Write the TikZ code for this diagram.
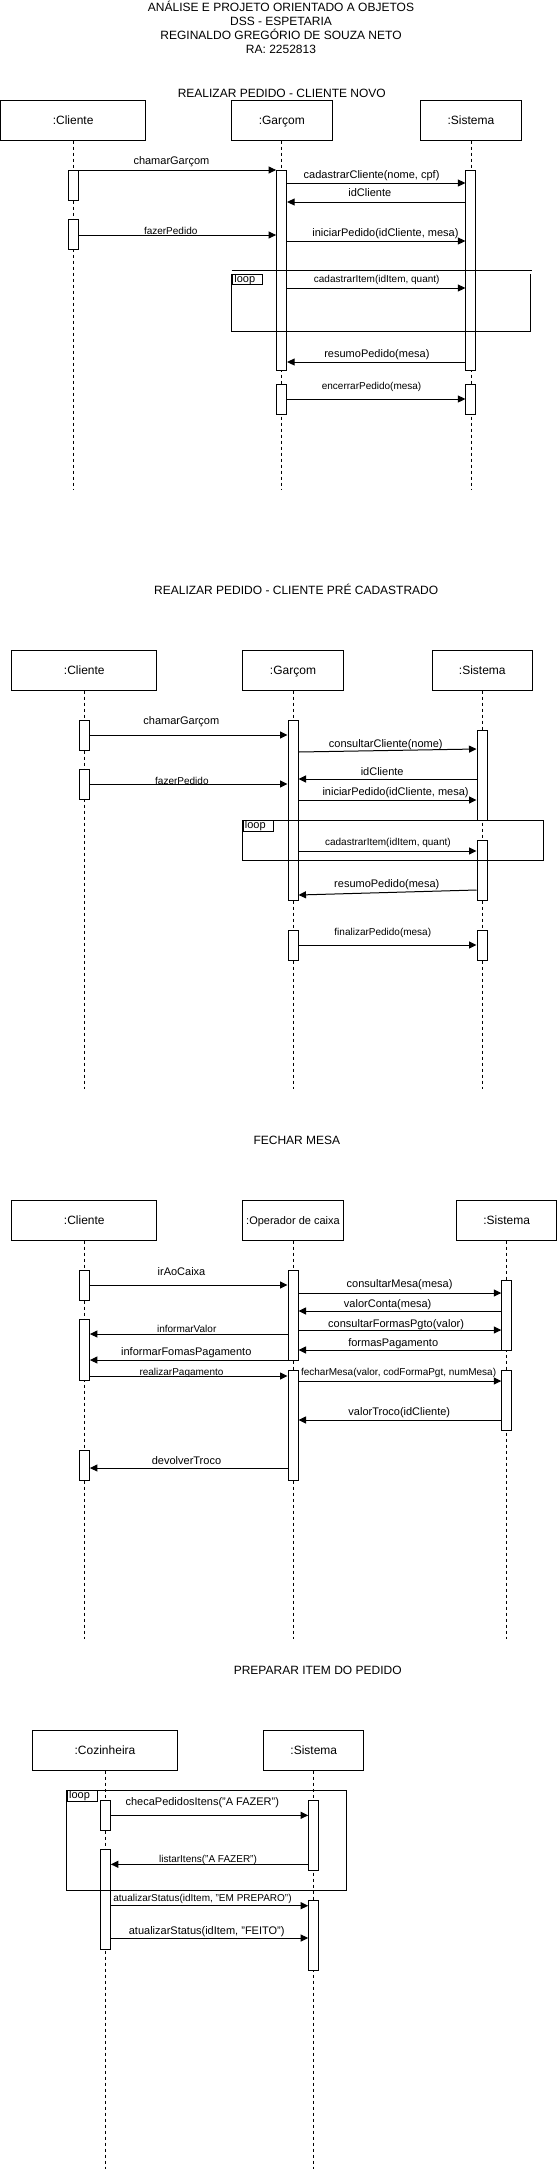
\documentclass[tikz,border=0pt]{standalone}
\usepackage{fontspec}
\setmainfont{Liberation Sans}
\usetikzlibrary{arrows.meta}
\tikzset{
  obj/.style={draw, line width=1pt, inner sep=0pt, minimum height=40pt, text height=10pt, text depth=1.4pt, font=\fontsize{12}{14}\selectfont},
  objm/.style={obj, text height=9.5pt, text depth=1.5pt, font=\fontsize{11}{13}\selectfont},
  act/.style={draw, fill=white, line width=1pt, inner sep=0pt, minimum width=10pt},
  life/.style={line width=0.8pt, dash pattern=on 3pt off 3pt},
  msg/.style={line width=1pt, -{Triangle[length=7.5pt,width=7pt]}},
  lm/.style={anchor=base, inner sep=0pt, font=\fontsize{11}{13}\selectfont},
  ls/.style={anchor=base, inner sep=0pt, font=\fontsize{10}{12}\selectfont},
  lb/.style={anchor=base, inner sep=0pt, font=\fontsize{12}{14}\selectfont},
  frm/.style={line width=1pt},
  tab/.style={draw, line width=0.8pt, anchor=north west, inner xsep=2pt, inner ysep=0pt,
    text width=26pt, align=left, minimum height=10pt, font=\fontsize{11}{11}\selectfont}
}
\begin{document}
\begin{tikzpicture}[x=1pt,y=-1pt]
\useasboundingbox (0,0) rectangle (557,2171);

% ---------------- titles ----------------
\node[lb] (t1) at (281,11.3) {ANÁLISE E PROJETO ORIENTADO A OBJETOS};
\node[lb] (t2) at (281,25.6) {DSS - ESPETARIA};
\node[lb] (t3) at (281,39.6) {REGINALDO GREGÓRIO DE SOUZA NETO};
\node[lb] (t4) at (281,53.9) {RA: 2252813};

% ================= Diagram 1 =================
\node[lb] (d1) at (281.8,97.3) {REALIZAR PEDIDO - CLIENTE NOVO};
\node[obj, minimum width=145.3pt] (c1) at (73.1,120) {:Cliente};
\node[obj, minimum width=100.5pt] (g1) at (281.8,120) {:Garçom};
\node[obj, minimum width=100.6pt] (s1) at (470.9,120) {:Sistema};
\draw[life] (c1) -- (c1|-0,490);
\draw[life] (g1) -- (g1|-0,490);
\draw[life] (s1) -- (s1|-0,490);
\node[act, minimum height=30pt]  (c1a) at (73,185) {};
\node[act, minimum height=30pt]  (c1b) at (73,234) {};
\node[act, minimum height=200pt] (g1a) at (281.6,270) {};
\node[act, minimum height=200pt] (s1a) at (470.9,270) {};
\node[act, minimum height=30pt]  (g1b) at (281.6,399) {};
\node[act, minimum height=30pt]  (s1b) at (470.9,399) {};
% loop frame
\draw[frm] (231.7,270.7) -- (531.7,270.7);
\draw[frm] (231.7,274) -- (231.7,331) -- (530.7,331) -- (530.7,274);
\node[tab] (f1) at (232,274) {loop};
% messages
\draw[msg] (c1a.east|-0,170) -- (g1a.west|-0,170);
\node[lm] (m1) at (171.4,164) {chamarGarçom};
\draw[msg] (g1a.east|-0,183) -- (s1a.west|-0,183);
\node[lm] (m2) at (371.6,178) {cadastrarCliente(nome, cpf)};
\draw[msg] (s1a.west|-0,202) -- (g1a.east|-0,202);
\node[lm] (m3) at (369.8,196) {idCliente};
\draw[msg] (c1b.east|-0,235) -- (g1a.west|-0,235);
\node[ls] (m4) at (170.7,234.6) {fazerPedido};
\draw[msg] (g1a.east|-0,241) -- (s1a.west|-0,241);
\node[lm] (m5) at (385.4,236) {iniciarPedido(idCliente, mesa)};
\draw[msg] (g1a.east|-0,288) -- (s1a.west|-0,288);
\node[ls] (m6) at (376.7,282.6) {cadastrarItem(idItem, quant)};
\draw[msg] (s1a.west|-0,362) -- (g1a.east|-0,362);
\node[lm] (m7) at (376.9,357) {resumoPedido(mesa)};
\draw[msg] (g1b.east|-0,399) -- (s1b.west|-0,399);
\node[ls] (m8) at (371.6,389.6) {encerrarPedido(mesa)};

% ================= Diagram 2 =================
\node[lb] (d2) at (296.2,594.3) {REALIZAR PEDIDO - CLIENTE PRÉ CADASTRADO};
\node[obj, minimum width=145pt]   (c2) at (84.3,670) {:Cliente};
\node[obj, minimum width=100.3pt] (g2) at (293,670) {:Garçom};
\node[obj, minimum width=100.6pt] (s2) at (482.3,670) {:Sistema};
\draw[life] (c2) -- (c2|-0,1089);
\draw[life] (g2) -- (g2|-0,1089);
\draw[life] (s2) -- (s2|-0,1089);
\node[act, minimum height=30pt]  (c2a) at (84.4,735) {};
\node[act, minimum height=30pt]  (c2b) at (84.4,784) {};
\node[act, minimum height=180pt] (g2a) at (293,810) {};
\node[act, minimum height=90pt]  (s2a) at (482,775) {};
\node[act, minimum height=60pt]  (s2b) at (482,870) {};
\node[act, minimum height=30pt]  (g2b) at (293,945) {};
\node[act, minimum height=30pt]  (s2c) at (482,945) {};
\draw[frm] (242.5,820.3) rectangle (543,860.3);
\node[tab] (f2) at (242.5,820.3) {loop};
\draw[msg] (c2a.east|-0,735) -- (g2a.west|-0,735);
\node[lm] (n1) at (181.3,724) {chamarGarçom};
\draw[msg] (g2a.east|-0,752) -- (s2a.west|-0,749);
\node[lm] (n2) at (385.8,747) {consultarCliente(nome)};
\draw[msg] (s2a.west|-0,779) -- (g2a.east|-0,779);
\node[lm] (n3) at (382.2,775) {idCliente};
\draw[msg] (c2b.east|-0,784) -- (g2a.west|-0,784);
\node[ls] (n4) at (181.9,784.6) {fazerPedido};
\draw[msg] (g2a.east|-0,800) -- (s2a.west|-0,800);
\node[lm] (n5) at (395.6,795) {iniciarPedido(idCliente, mesa)};
\draw[msg] (g2a.east|-0,851) -- (s2b.west|-0,851);
\node[ls] (n6) at (387.9,845.6) {cadastrarItem(idItem, quant)};
\draw[msg] (s2b.west|-0,890) -- (g2a.east|-0,895);
\node[lm] (n7) at (386.8,887) {resumoPedido(mesa)};
\draw[msg] (g2b.east|-0,945) -- (s2c.west|-0,945);
\node[ls] (n8) at (382.8,935.6) {finalizarPedido(mesa)};

% ================= Diagram 3 =================
\node[lb] (d3) at (296.9,1144.3) {FECHAR MESA};
\node[obj, minimum width=145pt]   (c3) at (84.3,1220) {:Cliente};
\node[objm, minimum width=100.3pt] (o3) at (293,1220) {:Operador de caixa};
\node[obj, minimum width=99.6pt]  (s3) at (506.7,1220) {:Sistema};
\draw[life] (c3) -- (c3|-0,1639);
\draw[life] (o3) -- (o3|-0,1639);
\draw[life] (s3) -- (s3|-0,1639);
\node[act, minimum height=30pt]  (c3a) at (84.4,1285) {};
\node[act, minimum height=61pt]  (c3b) at (84.4,1349.5) {};
\node[act, minimum height=30pt]  (c3c) at (84.4,1465) {};
\node[act, minimum height=90pt]  (o3a) at (293,1315) {};
\node[act, minimum height=110pt] (o3b) at (293,1425) {};
\node[act, minimum height=70pt]  (s3a) at (506.8,1315) {};
\node[act, minimum height=60pt]  (s3b) at (506.8,1400) {};
\draw[msg] (c3a.east|-0,1285) -- (o3a.west|-0,1285);
\node[lm] (p1) at (181.5,1275) {irAoCaixa};
\draw[msg] (o3a.east|-0,1293) -- (s3a.west|-0,1293);
\node[lm] (p2) at (399.6,1287) {consultarMesa(mesa)};
\draw[msg] (s3a.west|-0,1311) -- (o3a.east|-0,1311);
\node[lm] (p3) at (387.7,1307) {valorConta(mesa)};
\draw[msg] (o3a.east|-0,1330) -- (s3a.west|-0,1330);
\node[lm] (p4) at (396.1,1327) {consultarFormasPgto(valor)};
\draw[msg] (o3a.west|-0,1334) -- (c3b.east|-0,1334);
\node[ls] (p5) at (186.7,1332.6) {informarValor};
\draw[msg] (s3a.west|-0,1350) -- (o3a.east|-0,1350);
\node[lm] (p6) at (393.2,1346) {formasPagamento};
\draw[msg] (o3a.west|-0,1360) -- (c3b.east|-0,1360);
\node[lm] (p7) at (186.3,1355) {informarFomasPagamento};
\draw[msg] (c3b.east|-0,1376) -- (o3b.west|-0,1376);
\node[ls] (p8) at (181.5,1375.6) {realizarPagamento};
\draw[msg] (o3b.east|-0,1381) -- (s3b.west|-0,1381);
\node[ls] (p9) at (398.6,1375.6) {fecharMesa(valor, codFormaPgt, numMesa)};
\draw[msg] (s3b.west|-0,1420) -- (o3b.east|-0,1420);
\node[lm] (p10) at (399.3,1415) {valorTroco(idCliente)};
\draw[msg] (o3b.west|-0,1468) -- (c3c.east|-0,1468);
\node[lm] (p11) at (186.5,1464) {devolverTroco};

% ================= Diagram 4 =================
\node[lb] (d4) at (317.7,1674.3) {PREPARAR ITEM DO PEDIDO};
\node[obj, minimum width=145.3pt] (k4) at (105,1750) {:Cozinheira};
\node[obj, minimum width=100.3pt] (s4) at (313.8,1750) {:Sistema};
\draw[life] (k4) -- (k4|-0,2169);
\draw[life] (s4) -- (s4|-0,2169);
\node[act, minimum height=30pt]    (k4a) at (105.3,1815.3) {};
\node[act, minimum height=100.7pt] (k4b) at (105.3,1899.6) {};
\node[act, minimum height=69.7pt]  (s4a) at (313.7,1835.2) {};
\node[act, minimum height=70.3pt]  (s4b) at (313.7,1935.2) {};
\draw[frm] (66.7,1790.3) rectangle (346.3,1890);
\node[tab] (f4) at (66.7,1790.3) {loop};
\draw[msg] (k4a.east|-0,1815.3) -- (s4a.west|-0,1815.3);
\node[lm] (q1) at (202.3,1805) {checaPedidosItens("A FAZER")};
\draw[msg] (s4a.west|-0,1864.3) -- (k4b.east|-0,1864.3);
\node[ls] (q2) at (208,1862.6) {listarItens("A FAZER")};
\draw[msg] (k4b.east|-0,1905.7) -- (s4b.west|-0,1905.7);
\node[ls] (q3) at (202.5,1901.6) {atualizarStatus(idItem, "EM PREPARO")};
\draw[msg] (k4b.east|-0,1938) -- (s4b.west|-0,1938);
\node[lm] (q4) at (206.7,1934) {atualizarStatus(idItem, "FEITO")};
\end{tikzpicture}
\end{document}
